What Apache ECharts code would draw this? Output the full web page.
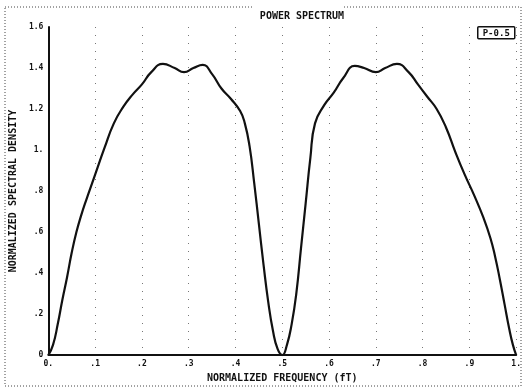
<!DOCTYPE html>
<html>
<head>
<meta charset="utf-8">
<script src="https://cdn.jsdelivr.net/npm/echarts@6/dist/echarts.min.js"></script>
<style>
  html, body { margin: 0; padding: 0; background: #fff; }
  #chart { width: 524px; height: 388px; }
</style>
</head>
<body>
<div id="chart"></div>
<script>
// 曲线数据（归一化频率 -> 归一化谱密度）
const freq = [
  0.00, 0.01, 0.02, 0.03, 0.04, 0.05, 0.06, 0.07, 0.08, 0.10,
  0.12, 0.14, 0.16, 0.18, 0.20, 0.22, 0.245, 0.27, 0.29, 0.31,
  0.33, 0.35, 0.37, 0.39, 0.41, 0.42, 0.43, 0.44, 0.45, 0.46,
  0.47, 0.48, 0.49, 0.50, 0.51, 0.52, 0.53, 0.54, 0.55, 0.56,
  0.57, 0.59, 0.61, 0.63, 0.655, 0.675, 0.70, 0.72, 0.745, 0.77,
  0.79, 0.81, 0.83, 0.85, 0.87, 0.89, 0.91, 0.93, 0.945, 0.955,
  0.965, 0.975, 0.985, 0.993, 1.00,
];
const density = [
  0.00, 0.05, 0.15, 0.27, 0.38, 0.50, 0.60, 0.68, 0.75, 0.88,
  1.01, 1.13, 1.21, 1.27, 1.32, 1.38, 1.42, 1.40, 1.38, 1.40,
  1.415, 1.37, 1.30, 1.25, 1.19, 1.13, 1.02, 0.84, 0.64, 0.44,
  0.26, 0.12, 0.03, 0.00, 0.05, 0.15, 0.30, 0.52, 0.74, 0.96,
  1.13, 1.22, 1.28, 1.35, 1.41, 1.40, 1.38, 1.40, 1.42, 1.38,
  1.32, 1.26, 1.20, 1.11, 0.99, 0.88, 0.78, 0.67, 0.57, 0.48,
  0.37, 0.25, 0.13, 0.05, 0.00,
];

// 刻度文字
const xTickValues = [0, 0.1, 0.2, 0.3, 0.4, 0.5, 0.6, 0.7, 0.8, 0.9, 1];
const xTickLabels = ["0.", ".1", ".2", ".3", ".4", ".5", ".6", ".7", ".8", ".9", "1."];
const yTickValues = [0, 0.2, 0.4, 0.6, 0.8, 1, 1.2, 1.4, 1.6];
const yTickLabels = ["0", ".2", ".4", ".6", ".8", "1.", "1.2", "1.4", "1.6"];

const FONT = "DejaVu Sans Mono";
const INK = "#111";

const labelFor = (values, labels) => (v) => {
  const i = values.findIndex((t) => Math.abs(t - v) < 1e-6);
  return i >= 0 ? labels[i] : "";
};

const chart = echarts.init(document.getElementById("chart"), null, { renderer: "canvas" });

chart.setOption({
  animation: false,
  backgroundColor: "#fff",
  title: {
    text: "POWER SPECTRUM",
    left: 297,
    top: 6,
    textAlign: "center",
    textStyle: { fontFamily: FONT, fontSize: 10, fontWeight: "bold", color: INK },
  },
  grid: { left: 40, right: 5, top: 27, bottom: 25 },
  xAxis: {
    type: "value",
    min: 0,
    max: 1,
    interval: 0.1,
    name: "NORMALIZED FREQUENCY (fT)",
    nameLocation: "middle",
    nameGap: 15,
    nameTextStyle: { fontFamily: FONT, fontSize: 10, fontWeight: "bold", color: INK },
    axisLine: { lineStyle: { color: INK, width: 2 } },
    axisTick: { show: false },
    axisLabel: {
      margin: 5,
      fontFamily: FONT,
      fontSize: 8,
      fontWeight: "bold",
      color: INK,
      formatter: labelFor(xTickValues, xTickLabels),
    },
    splitLine: { show: true, lineStyle: { color: "#777", width: 1, type: [1, 7] } },
  },
  yAxis: {
    type: "value",
    min: 0,
    max: 1.6,
    interval: 0.2,
    name: "NORMALIZED SPECTRAL DENSITY",
    nameLocation: "middle",
    nameGap: 24,
    nameRotate: 90,
    nameTextStyle: { fontFamily: FONT, fontSize: 10, fontWeight: "bold", color: INK },
    axisLine: { show: true, lineStyle: { color: INK, width: 2 } },
    axisTick: { show: false },
    axisLabel: {
      margin: 5,
      fontFamily: FONT,
      fontSize: 8,
      fontWeight: "bold",
      color: INK,
      formatter: labelFor(yTickValues, yTickLabels),
    },
    splitLine: { show: false },
  },
  graphic: [
    {
      type: "rect",
      silent: true,
      shape: { x: 5, y: 7, width: 516, height: 379 },
      style: { fill: null, stroke: "#444", lineWidth: 1, lineDash: [1, 2] },
      z: -1,
    },
    {
      type: "rect",
      silent: true,
      shape: { x: 252, y: 3, width: 92, height: 10 },
      style: { fill: "#fff" },
      z: 0,
    },
    {
      type: "group",
      left: 477,
      top: 26,
      children: [
        {
          type: "rect",
          shape: { x: 0, y: 0, width: 37, height: 12, r: 1 },
          style: { fill: "#fff", stroke: INK, lineWidth: 1.5 },
        },
        {
          type: "text",
          style: {
            x: 18.5,
            y: 6.5,
            text: "P-0.5",
            align: "center",
            verticalAlign: "middle",
            font: "bold 9px " + FONT,
            fill: INK,
          },
        },
      ],
    },
  ],
  series: [
    {
      type: "line",
      data: freq.map((f, i) => [f, density[i]]),
      smooth: 0.5,
      showSymbol: false,
      lineStyle: { color: INK, width: 2.2 },
    },
  ],
});
</script>
</body>
</html>
